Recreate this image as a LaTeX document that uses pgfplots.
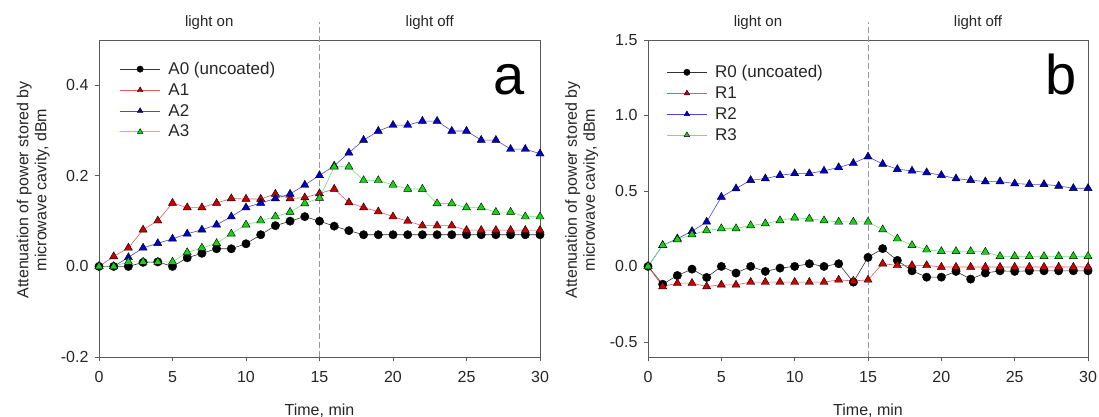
\documentclass[border=0pt]{standalone}
\usepackage{fontspec}
\setmainfont{Liberation Sans}
\usepackage{pgfplots}
\usepackage{pgfplotstable}
\pgfplotsset{compat=1.18}

\definecolor{frame}{RGB}{90,90,90}
\definecolor{redfill}{RGB}{200,0,0}
\definecolor{redline}{RGB}{230,90,90}
\definecolor{bluefill}{RGB}{0,0,200}
\definecolor{blueline}{RGB}{70,70,230}
\definecolor{greenfill}{RGB}{20,210,20}
\definecolor{greenline}{RGB}{110,230,110}

\pgfplotstableread{
t A0 A1 A2 A3
0 0 0 0 0
1 0 0.022 0 0
2 0 0.041 0.02 0.01
3 0.009 0.081 0.041 0.01
4 0.01 0.101 0.051 0.01
5 0 0.14 0.061 0.01
6 0.019 0.13 0.072 0.031
7 0.029 0.13 0.081 0.041
8 0.039 0.14 0.092 0.051
9 0.039 0.15 0.11 0.072
10 0.05 0.149 0.13 0.092
11 0.07 0.149 0.14 0.101
12 0.09 0.16 0.15 0.11
13 0.10 0.15 0.16 0.12
14 0.11 0.152 0.18 0.139
15 0.10 0.161 0.201 0.151
16 0.089 0.171 0.222 0.22
17 0.079 0.141 0.251 0.22
18 0.07 0.13 0.279 0.19
19 0.07 0.121 0.299 0.19
20 0.07 0.11 0.312 0.18
21 0.07 0.10 0.312 0.171
22 0.07 0.09 0.321 0.171
23 0.07 0.09 0.321 0.139
24 0.07 0.09 0.299 0.139
25 0.07 0.08 0.299 0.13
26 0.07 0.08 0.279 0.13
27 0.07 0.08 0.279 0.12
28 0.07 0.08 0.259 0.12
29 0.07 0.08 0.259 0.11
30 0.07 0.08 0.249 0.11
}\tabA

\pgfplotstableread{
t R0 R1 R2 R3
0 0 0 0 0
1 -0.118 -0.133 0.14 0.14
2 -0.06 -0.111 0.184 0.178
3 -0.018 -0.111 0.233 0.211
4 -0.073 -0.133 0.295 0.238
5 0 -0.122 0.46 0.251
6 -0.044 -0.122 0.516 0.251
7 0 -0.104 0.571 0.271
8 -0.033 -0.104 0.582 0.284
9 -0.011 -0.104 0.604 0.304
10 0 -0.104 0.616 0.322
11 0.018 -0.104 0.616 0.316
12 0 -0.104 0.633 0.304
13 0.018 -0.089 0.656 0.295
14 -0.104 -0.096 0.684 0.295
15 0.06 -0.089 0.727 0.295
16 0.118 0.018 0.678 0.244
17 0.04 0.007 0.644 0.184
18 -0.029 0.007 0.633 0.14
19 -0.071 0.007 0.622 0.111
20 -0.071 -0.004 0.604 0.1
21 -0.033 -0.004 0.582 0.1
22 -0.084 -0.004 0.571 0.1
23 -0.044 -0.004 0.562 0.096
24 -0.029 -0.004 0.562 0.067
25 -0.033 -0.004 0.549 0.067
26 -0.029 -0.004 0.544 0.067
27 -0.029 -0.004 0.544 0.067
28 -0.029 -0.004 0.533 0.067
29 -0.029 -0.004 0.518 0.067
30 -0.029 -0.004 0.518 0.067
}\tabR

\pgfplotsset{
  panel/.style={
    anchor=south west, scale only axis, height=317pt,
    xmin=0, xmax=30, xtick={0,5,...,30},
    axis line style={frame, line width=0.8pt},
    tick style={frame, line width=0.8pt},
    major tick length=4pt,
    tick align=outside, xtick pos=bottom, ytick pos=left,
    clip=false,
    /pgf/number format/assume math mode=true,
    tick label style={font=\fontsize{16}{18}\selectfont, text=black!85},
    yticklabel style={xshift=-3pt, /pgf/number format/fixed, /pgf/number format/fixed zerofill, /pgf/number format/precision=1},
    xticklabel style={yshift=-7pt},
    label style={font=\fontsize{16}{18}\selectfont, text=black!85},
    xlabel={Time, min},
    xlabel style={at={(axis description cs:0.5,0)}, anchor=north, yshift=-43pt},
    ylabel={Attenuation of power stored by\\microwave cavity, dBm},
    legend style={draw=none, fill=none, font=\fontsize{17}{19}\selectfont, text=black!85,
      anchor=north west, legend cell align=left, row sep=5.5pt,
      nodes={inner sep=1pt},
      /tikz/every odd column/.append style={column sep=7pt}},
    legend image code/.code={\draw[mark repeat=2,mark phase=2,#1] plot coordinates {(0pt,0pt) (20pt,0pt) (40pt,0pt)};},
    legend image post style={mark size=3.2pt},
  },
  s0/.style={black!80, line width=0.6pt, mark=*, mark size=4.2pt, mark options={fill=black, draw=black, line width=0.4pt}},
  s1/.style={redline, line width=0.6pt, mark=triangle*, mark size=4.7pt, mark options={fill=redfill, draw=black, line width=0.4pt}},
  s2/.style={blueline, line width=0.6pt, mark=triangle*, mark size=4.7pt, mark options={fill=bluefill, draw=black, line width=0.4pt}},
  s3/.style={greenline, line width=0.6pt, mark=triangle*, mark size=4.7pt, mark options={fill=greenfill, draw=black, line width=0.4pt}},
}

\begin{document}
\begin{tikzpicture}
\begin{axis}[panel, at={(99pt,60pt)}, width=441pt,
  ymin=-0.2, ymax=0.5, ytick={-0.2,0,0.2,0.4},
  ylabel style={align=center, at={(axis description cs:-0.104,0.527)}, anchor=south},
  legend style={at={(axis description cs:0.04,0.94)}}]
  \draw[gray!80, dash pattern=on 6pt off 3pt, line width=0.8pt] (axis cs:15,-0.2) -- ([yshift=18pt]axis cs:15,0.5);
  \addplot[s0] table[x=t, y=A0] {\tabA};
  \addplot[s1] table[x=t, y=A1] {\tabA};
  \addplot[s2] table[x=t, y=A2] {\tabA};
  \addplot[s3] table[x=t, y=A3] {\tabA};
  \legend{A0 (uncoated), A1, A2, A3}
  \node[font=\fontsize{15}{17}\selectfont, text=black!85] at ([yshift=17pt]axis cs:7.5,0.5) {light on};
  \node[font=\fontsize{15}{17}\selectfont, text=black!85] at ([yshift=17pt]axis cs:22.5,0.5) {light off};
  \node[anchor=base east, inner sep=0pt, font=\fontsize{56}{56}\selectfont] at ([xshift=-15pt,yshift=-55pt]axis description cs:1,1) {a};
\end{axis}
\begin{axis}[panel, at={(648pt,60pt)}, width=440pt,
  ymin=-0.6, ymax=1.5, ytick={-0.5,0,0.5,1,1.5},
  ylabel style={align=center, at={(axis description cs:-0.105,0.527)}, anchor=south},
  legend style={at={(axis description cs:0.035,0.93)}}]
  \draw[gray!80, dash pattern=on 6pt off 3pt, line width=0.8pt] (axis cs:15,-0.6) -- ([yshift=18pt]axis cs:15,1.5);
  \addplot[s0] table[x=t, y=R0] {\tabR};
  \addplot[s1] table[x=t, y=R1] {\tabR};
  \addplot[s2] table[x=t, y=R2] {\tabR};
  \addplot[s3] table[x=t, y=R3] {\tabR};
  \legend{R0 (uncoated), R1, R2, R3}
  \node[font=\fontsize{15}{17}\selectfont, text=black!85] at ([yshift=17pt]axis cs:7.5,1.5) {light on};
  \node[font=\fontsize{15}{17}\selectfont, text=black!85] at ([yshift=17pt]axis cs:22.5,1.5) {light off};
  \node[anchor=base east, inner sep=0pt, font=\fontsize{56}{56}\selectfont] at ([xshift=-11pt,yshift=-55pt]axis description cs:1,1) {b};
\end{axis}
\pgfresetboundingbox
\path[use as bounding box] (0,0) rectangle (1099pt,417pt);
\end{tikzpicture}
\end{document}
